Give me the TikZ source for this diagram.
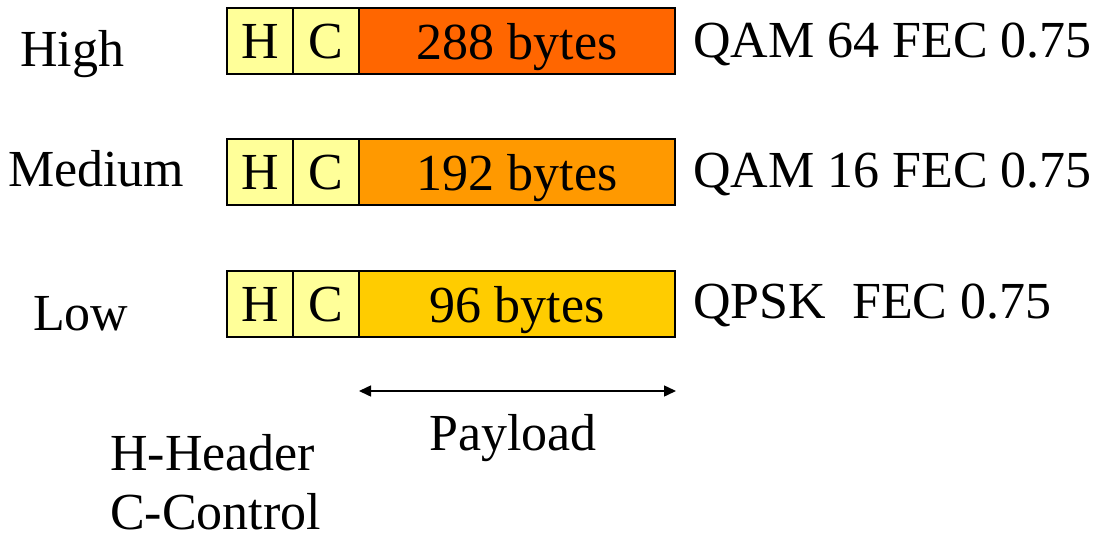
\documentclass[tikz,border=0pt]{standalone}
\usepackage{fontspec}
\setmainfont{Liberation Serif}
\usetikzlibrary{positioning, arrows.meta}

\definecolor{hccol}{HTML}{FFFF99}
\definecolor{highcol}{HTML}{FF6600}
\definecolor{medcol}{HTML}{FF9900}
\definecolor{lowcol}{HTML}{FFCC00}

\begin{document}
\begin{tikzpicture}[x=1pt,y=-1pt,font=\rmfamily\fontsize{52}{60}\selectfont,
  hcbox/.style={draw,line width=1.5pt,fill=hccol,minimum width=66pt,minimum height=66pt,inner sep=0pt,outer sep=0pt,text depth=0pt},
  paybox/.style={draw,line width=1.5pt,minimum width=316pt,minimum height=66pt,inner sep=0pt,outer sep=0pt,text height=36pt,text depth=0pt},
  lab/.style={anchor=base west,inner sep=0pt}]
  \useasboundingbox (0,0) rectangle (1101,538);
  % high rate
  \node[hcbox](H1) at (260,41){H};
  \node[hcbox,right=0pt of H1](C1){C};
  \node[paybox,fill=highcol,right=0pt of C1](P1){288 bytes};
  % medium rate
  \node[hcbox](H2) at (260,172){H};
  \node[hcbox,right=0pt of H2](C2){C};
  \node[paybox,fill=medcol,right=0pt of C2](P2){192 bytes};
  % low rate
  \node[hcbox](H3) at (260,304){H};
  \node[hcbox,right=0pt of H3](C3){C};
  \node[paybox,fill=lowcol,right=0pt of C3](P3){96 bytes};
  % rate names
  \node[lab](high) at (20,66){High};
  \node[lab](medium) at (8,186){Medium};
  \node[lab](low) at (33,330){Low};
  % modulation
  \node[lab](m1) at (693,57){QAM 64 FEC 0.75};
  \node[lab](m2) at (693,187){QAM 16 FEC 0.75};
  \node[lab](m3) at (693,318){QPSK\ \ FEC 0.75};
  % payload span
  \coordinate(pa) at (359,391);
  \coordinate(pb) at (676,391);
  \draw[{Triangle[length=12pt,width=11pt]}-{Triangle[length=12pt,width=11pt]},line width=1.5pt](pa)--(pb);
  \node[anchor=base,inner sep=0pt](pay) at (513,450){Payload};
  % legend
  \node[lab](leg1) at (110,470){H-Header};
  \node[lab,text depth=0pt](leg2) at (110,529){C-Control};
\end{tikzpicture}
\end{document}
